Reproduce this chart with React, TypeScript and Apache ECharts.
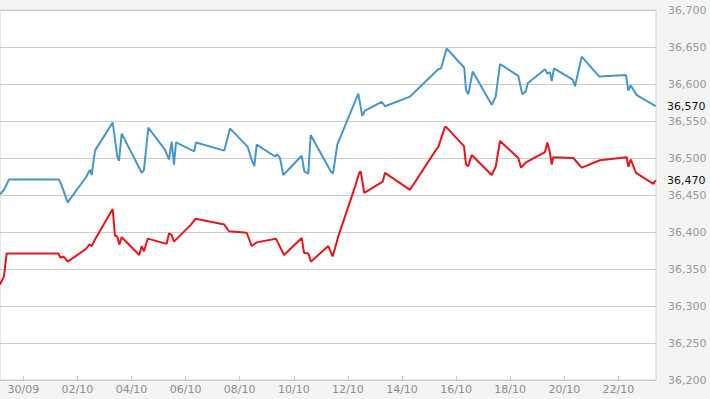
import React, { useEffect, useRef } from "react";
import * as echarts from "echarts";

// x values are days counted from 30/09 00:00
const blueDays = [-0.861, -0.714, -0.529, 1.32, 1.394, 1.641, 2.318, 2.466, 2.529, 2.651, 3.305, 3.475, 3.538, 3.638, 4.377, 4.462, 4.621, 5.238, 5.386, 5.486, 5.571, 5.645, 6.322, 6.384, 7.431, 7.641, 8.296, 8.466, 8.54, 8.629, 9.305, 9.39, 9.49, 9.612, 10.292, 10.388, 10.536, 10.625, 11.364, 11.45, 11.608, 12.384, 12.532, 12.632, 13.25, 13.372, 14.296, 15.342, 15.442, 15.652, 16.303, 16.366, 16.451, 16.614, 17.316, 17.464, 17.623, 18.3, 18.447, 18.573, 18.647, 19.287, 19.372, 19.471, 19.534, 19.619, 20.311, 20.396, 20.643, 21.294, 22.281, 22.366, 22.455, 22.677, 23.379];
const blueValues = [36451, 36457, 36471, 36471, 36465, 36440, 36474, 36484, 36477, 36510, 36548, 36502, 36496, 36533, 36480, 36484, 36541, 36511, 36498, 36522, 36491, 36521, 36509, 36521, 36510, 36540, 36515, 36495, 36489, 36518, 36502, 36505, 36500, 36477, 36503, 36482, 36479, 36531, 36482, 36479, 36518, 36587, 36557, 36564, 36576, 36570, 36583, 36620, 36621, 36648, 36622, 36592, 36586, 36617, 36572, 36583, 36627, 36611, 36586, 36590, 36601, 36620, 36614, 36616, 36604, 36621, 36606, 36597, 36637, 36610, 36612, 36591, 36598, 36585, 36570];

const redDays = [-0.861, -0.714, -0.614, 1.294, 1.383, 1.479, 1.641, 2.318, 2.44, 2.529, 2.651, 3.305, 3.39, 3.475, 3.549, 3.638, 4.288, 4.377, 4.462, 4.599, 5.3, 5.386, 5.486, 5.571, 6.2, 6.373, 7.431, 7.604, 8.259, 8.444, 8.629, 9.342, 9.638, 10.292, 10.377, 10.536, 10.636, 11.275, 11.438, 11.645, 12.262, 12.421, 12.473, 12.606, 13.287, 13.372, 14.296, 15.257, 15.342, 15.59, 15.627, 16.292, 16.366, 16.451, 16.577, 17.316, 17.464, 17.623, 18.3, 18.4, 18.584, 19.287, 19.372, 19.471, 19.534, 19.593, 20.333, 20.643, 21.32, 22.307, 22.366, 22.455, 22.651, 23.29, 23.379];
const redValues = [36329, 36340, 36371, 36371, 36365, 36367, 36360, 36377, 36383, 36381, 36390, 36431, 36395, 36394, 36383, 36393, 36369, 36381, 36374, 36391, 36384, 36398, 36396, 36387, 36410, 36418, 36410, 36401, 36399, 36381, 36386, 36391, 36369, 36392, 36372, 36371, 36360, 36381, 36367, 36394, 36461, 36480, 36482, 36453, 36468, 36480, 36457, 36511, 36515, 36542, 36542, 36516, 36491, 36489, 36504, 36477, 36488, 36523, 36500, 36487, 36494, 36508, 36521, 36507, 36491, 36501, 36500, 36487, 36497, 36501, 36488, 36498, 36480, 36465, 36470];

const tickDays = [0, 2, 4, 6, 8, 10, 12, 14, 16, 18, 20, 22];
const tickLabels = ["30/09", "02/10", "04/10", "06/10", "08/10", "10/10", "12/10", "14/10", "16/10", "18/10", "20/10", "22/10"];

const X_MIN = -0.861;
const X_MAX = 23.39;
const Y_MIN = 36200;
const Y_MAX = 36700;
const Y_STEP = 50;

const fmt = (v: number) => {
  const s = Math.round(v).toString();
  return s.slice(0, s.length - 3) + "," + s.slice(s.length - 3);
};

export default function App() {
  const ref = useRef<HTMLDivElement>(null);
  useEffect(() => {
    if (!ref.current) return;
    const chart = echarts.init(ref.current, undefined, { renderer: "svg" });
    const font = "DejaVu Sans";
    const lastBlue = blueValues[blueValues.length - 1];
    const lastRed = redValues[redValues.length - 1];
    chart.setOption({
      animation: false,
      backgroundColor: "#f4f4f4",
      textStyle: { fontFamily: font },
      grid: {
        left: 0,
        right: 54,
        top: 10,
        bottom: 19,
        show: true,
        backgroundColor: "#ffffff",
        borderColor: "#d0d0d0",
        borderWidth: 1,
      },
      xAxis: {
        type: "value",
        min: X_MIN,
        max: X_MAX,
        axisLine: { show: true, lineStyle: { color: "#c8c8c8", width: 1 } },
        axisTick: {
          show: true,
          inside: true,
          length: 4,
          customValues: tickDays,
          lineStyle: { color: "#c8c8c8" },
        },
        axisLabel: {
          customValues: tickDays,
          formatter: (v: number) => {
            const i = tickDays.findIndex((d) => Math.abs(d - v) < 1e-6);
            return i >= 0 ? tickLabels[i] : "";
          },
          color: "#8c8c8c",
          fontSize: 11,
          fontFamily: font,
          margin: 4,
        },
        splitLine: { show: false },
      },
      yAxis: [
        {
          type: "value",
          position: "right",
          min: Y_MIN,
          max: Y_MAX,
          interval: Y_STEP,
          axisLine: { show: false },
          axisTick: { show: false },
          axisLabel: {
            formatter: (v: number) => fmt(v),
            color: "#999999",
            fontSize: 11,
            fontFamily: font,
            margin: 12,
          },
          splitLine: { show: true, lineStyle: { color: "#cccccc", width: 1 } },
        },
        {
          type: "value",
          position: "right",
          min: Y_MIN,
          max: Y_MAX,
          axisLine: { show: false },
          axisTick: { show: false },
          splitLine: { show: false },
          axisLabel: {
            customValues: [lastBlue, lastRed],
            formatter: (v: number) => fmt(v),
            color: "#111111",
            fontSize: 11,
            fontFamily: font,
            margin: 11,
          },
        },
      ],
      series: [
        {
          type: "line",
          name: "blue",
          data: blueDays.map((d, i) => [d, blueValues[i]]),
          showSymbol: false,
          lineStyle: { color: "#4696c8", width: 2 },
          itemStyle: { color: "#4696c8" },
        },
        {
          type: "line",
          name: "red",
          data: redDays.map((d, i) => [d, redValues[i]]),
          showSymbol: false,
          lineStyle: { color: "#e8141c", width: 2 },
          itemStyle: { color: "#e8141c" },
        },
      ],
    });
    return () => chart.dispose();
  }, []);
  return (
    <div
      ref={ref}
      style={{ position: "fixed", left: 0, top: 0, width: 710, height: 399 }}
    />
  );
}
